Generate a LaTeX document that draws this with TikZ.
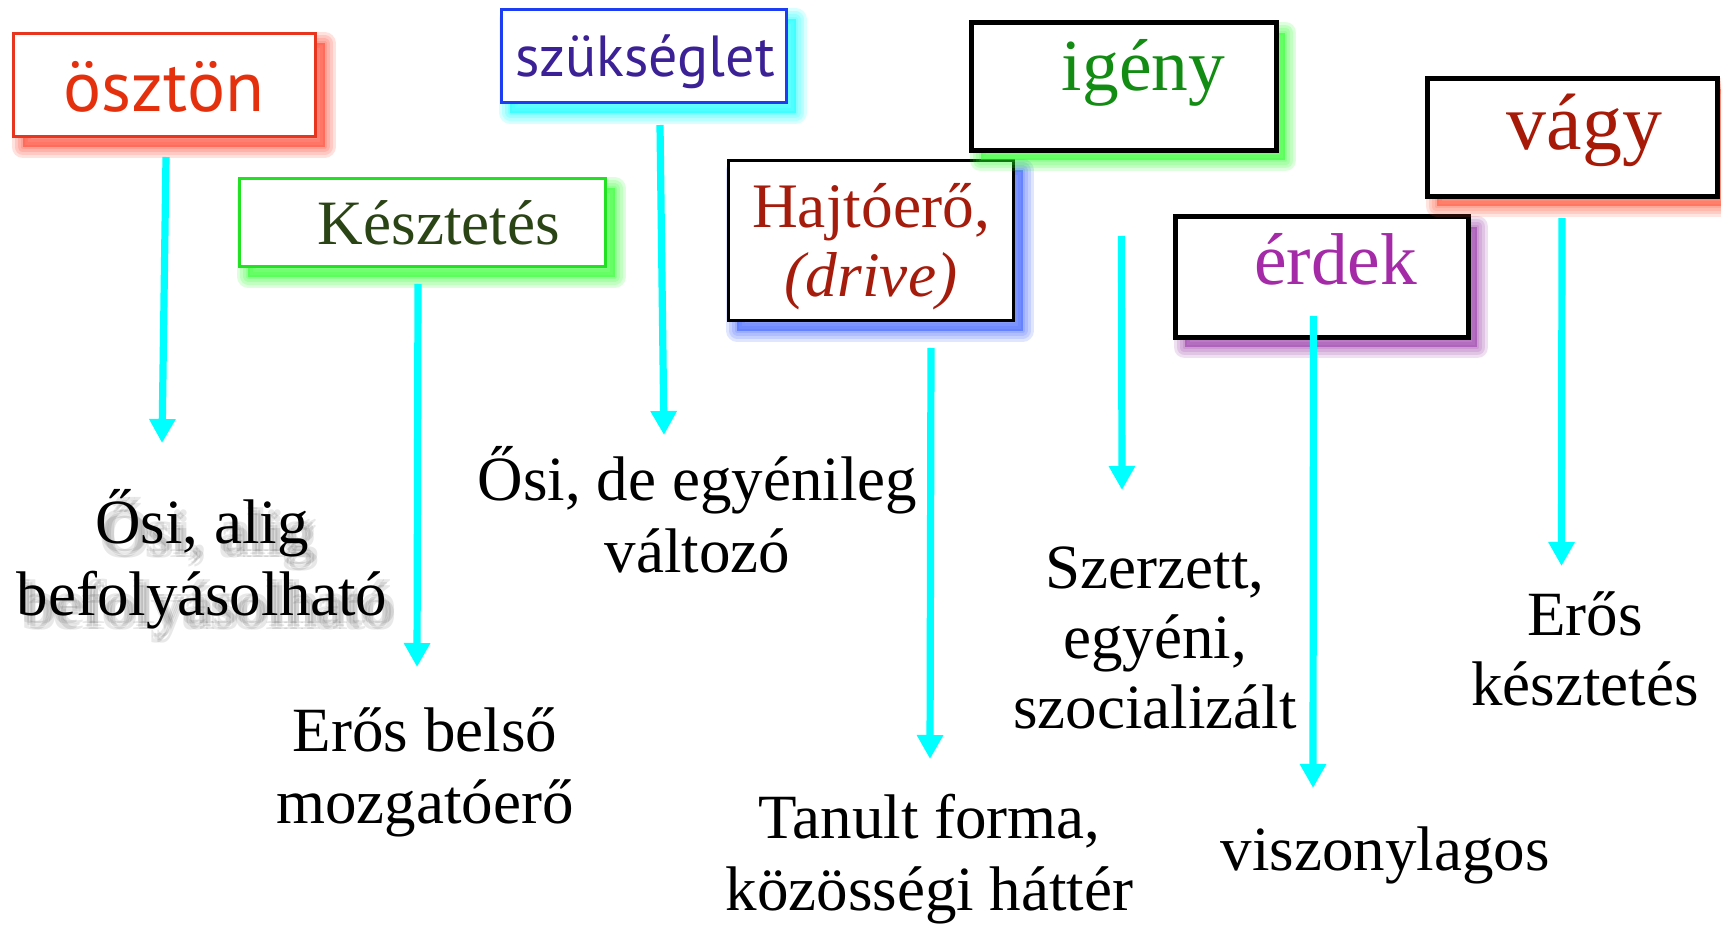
\documentclass[tikz,border=0pt]{standalone}
\usepackage{fontspec}
\setmainfont{Liberation Serif}
\newfontfamily\gsans{PT Sans}
\usetikzlibrary{arrows.meta,shadows}
\definecolor{osztonT}{HTML}{E5300E}
\definecolor{osztonB}{HTML}{E8361E}
\definecolor{osztonS}{HTML}{FF3A25}
\definecolor{szuksT}{HTML}{3B2195}
\definecolor{szuksB}{HTML}{1C3DF2}
\definecolor{szuksS}{HTML}{00FFFF}
\definecolor{keszT}{HTML}{2B4416}
\definecolor{keszB}{HTML}{22E022}
\definecolor{keszS}{HTML}{22FF22}
\definecolor{hajtT}{HTML}{A51C0C}
\definecolor{hajtS}{HTML}{3358FF}
\definecolor{igenyT}{HTML}{128C12}
\definecolor{igenyS}{HTML}{22FF22}
\definecolor{vagyT}{HTML}{A61A07}
\definecolor{vagyS}{HTML}{FF4A2A}
\definecolor{erdekT}{HTML}{A42AA8}
\definecolor{erdekS}{HTML}{9530A5}
\definecolor{arrowC}{HTML}{00FFFF}
\begin{document}
\begin{tikzpicture}[x=0.5pt,y=-0.5pt,
  glow/.style={
    general shadow={shadow xshift=4.5pt,shadow yshift=-5pt,fill=#1,fill opacity=0.5,draw=none},
    general shadow={shadow xshift=4.5pt,shadow yshift=-5pt,fill=none,draw=#1,draw opacity=0.15,line width=11pt,line join=round},
    general shadow={shadow xshift=4.5pt,shadow yshift=-5pt,fill=none,draw=#1,draw opacity=0.15,line width=8pt,line join=round},
    general shadow={shadow xshift=4.5pt,shadow yshift=-5pt,fill=none,draw=#1,draw opacity=0.15,line width=5pt,line join=round},
    general shadow={shadow xshift=4.5pt,shadow yshift=-5pt,fill=none,draw=#1,draw opacity=0.15,line width=2pt,line join=round}},
  box/.style={draw,fill=white,inner sep=0pt,outer sep=0pt},
  thinbox/.style={box,line width=1.4pt},
  thickbox/.style={box,draw=black,line width=2.6pt},
  sanslabel/.style={font=\gsans\fontsize{#1}{#1}\selectfont,inner sep=0pt,anchor=base},
  seriflabel/.style={font=\fontsize{#1}{#1}\selectfont,inner sep=0pt,anchor=base},
  desc/.style={font=\fontsize{31.5}{36}\selectfont,align=center,inner sep=0pt,anchor=base},
  desc2/.style={font=\fontsize{31.5}{35}\selectfont,align=center,inner sep=0pt,anchor=base},
  flow/.style={draw=arrowC,line width=3.6pt,-{Triangle[width=12.5pt,length=12pt]}}
]
\useasboundingbox[fill=white] (0,0) rectangle (1721,931);

% boxes
\node[thinbox,draw=osztonB,glow=osztonS,minimum width=151pt,minimum height=51.6pt] (osztonbox) at (164.5,85) {};
\node[thinbox,draw=szuksB,glow=szuksS,minimum width=142.6pt,minimum height=46.6pt] (szuksbox) at (644,56) {};
\node[thinbox,draw=keszB,glow=keszS,minimum width=183.1pt,minimum height=44.1pt] (keszbox) at (422.5,222.5) {};
\node[thinbox,draw=black,glow=hajtS,minimum width=142.6pt,minimum height=80.1pt] (hajtbox) at (871,240.5) {};
\node[thickbox,glow=igenyS,minimum width=152.4pt,minimum height=63.9pt] (igenybox) at (1124,86.5) {};
\node[thickbox,glow=erdekS,minimum width=146.4pt,minimum height=60.4pt] (erdekbox) at (1322,277) {};
\node[thickbox,glow=vagyS,minimum width=144.9pt,minimum height=58.9pt] (vagybox) at (1572.5,137.5) {};

% box labels (multi-line nodes: base = last line)
\node[sanslabel=35.6,text=osztonT] (oszton) at (164,112) {ösztön};
\node[sanslabel=29,text=szuksT] (szuks) at (645,77) {szükséglet};
\node[seriflabel=31.6,text=keszT] (kesz) at (439,245) {Késztetés};
\node[font=\fontsize{31.7}{35}\selectfont,align=center,inner sep=0pt,anchor=base,text=hajtT] (hajt) at (871,297) {Hajtóerő,\\\textit{(drive)}};
\node[seriflabel=36.7,text=igenyT] (igeny) at (1143.5,91) {igény};
\node[seriflabel=36.7,text=erdekT] (erdek) at (1335.5,285) {érdek};
\node[seriflabel=39.9,text=vagyT] (vagy) at (1584.5,150) {vágy};

% descriptions (blurred grey shadow under the first one)
\foreach \dx/\dy [count=\i] in {4/8,10/8,4/14,10/14,7/11}
  \node[desc,text=black,opacity=0.09] (dshadow\i) at ({202+\dx},{615+\dy}) {Ősi, alig\\befolyásolható};
\node[desc] (d1) at (202,615) {Ősi, alig\\befolyásolható};
\node[desc] (d2) at (425,823) {Erős belső\\mozgatóerő};
\node[desc] (d3) at (697.5,572) {Ősi, de egyénileg\\változó};
\node[desc] (d4) at (929.5,910) {Tanult forma,\\közösségi háttér};
\node[desc2] (d5) at (1155,728) {Szerzett,\\egyéni,\\szocializált};
\node[desc] (d6) at (1385,870) {viszonylagos};
\node[desc2] (d7) at (1585,705) {Erős\\késztetés};

% arrows
\coordinate (a1s) at (166,157);   \coordinate (a1e) at (162,443);
\coordinate (a2s) at (418,284);   \coordinate (a2e) at (417,667);
\coordinate (a3s) at (660,125);   \coordinate (a3e) at (664,435);
\coordinate (a4s) at (931,348);   \coordinate (a4e) at (930,759);
\coordinate (a5s) at (1121.5,236);\coordinate (a5e) at (1122,490);
\coordinate (a6s) at (1313.5,316);\coordinate (a6e) at (1313,788);
\coordinate (a7s) at (1562,218);  \coordinate (a7e) at (1561.5,566);
\draw[flow] (a1s) -- (a1e);
\draw[flow] (a2s) -- (a2e);
\draw[flow] (a3s) -- (a3e);
\draw[flow] (a4s) -- (a4e);
\draw[flow] (a5s) -- (a5e);
\draw[flow] (a6s) -- (a6e);
\draw[flow] (a7s) -- (a7e);
\end{tikzpicture}
\end{document}
